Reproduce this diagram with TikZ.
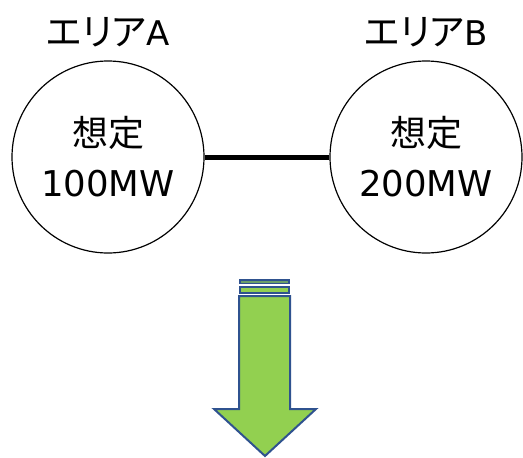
\documentclass[tikz,border=0pt]{standalone}
\usepackage{fontspec}
\newfontfamily\jp[RawFeature=+palt]{Noto Sans CJK JP}
\newfontfamily\lat{DejaVu Sans}
\definecolor{arrowfill}{HTML}{92D050}
\definecolor{arrowline}{HTML}{2F528F}
\begin{document}
\begin{tikzpicture}[x=1pt,y=-1pt,
  area/.style={draw=black,line width=1.2pt,circle,minimum size=192pt,inner sep=0pt,font=\jp\fontsize{36}{50}\selectfont,align=center},
  title/.style={font=\jp\fontsize{37}{48}\selectfont,inner sep=0pt},
  arr/.style={fill=arrowfill,draw=arrowline,line width=2pt,line join=miter}]
\useasboundingbox (0,0) rectangle (523,458);
\node[area] (a) at (108,157) {想定\\{\lat\fontsize{35.5}{50}\selectfont 100MW}};
\node[area] (b) at (426,157) {想定\\{\lat\fontsize{35.5}{50}\selectfont 200MW}};
\node[title] (ta) at (108,32) {エリア{\lat\fontsize{34}{48}\selectfont A}};
\node[title] (tb) at (426,32) {エリア{\lat\fontsize{34}{48}\selectfont B}};
\draw[line width=5pt] (a.east) -- (b.west);
\fill[arrowline] (239,279) rectangle (290,284);
\fill[arrowfill!60!arrowline] (241,280.5) rectangle (288,282.5);
\draw[arr] (240,287) rectangle (289,293);
\draw[arr] (239,296) -- (290,296) -- (290,409) -- (316,409) -- (265,456) -- (214,409) -- (239,409) -- cycle;
\end{tikzpicture}
\end{document}
